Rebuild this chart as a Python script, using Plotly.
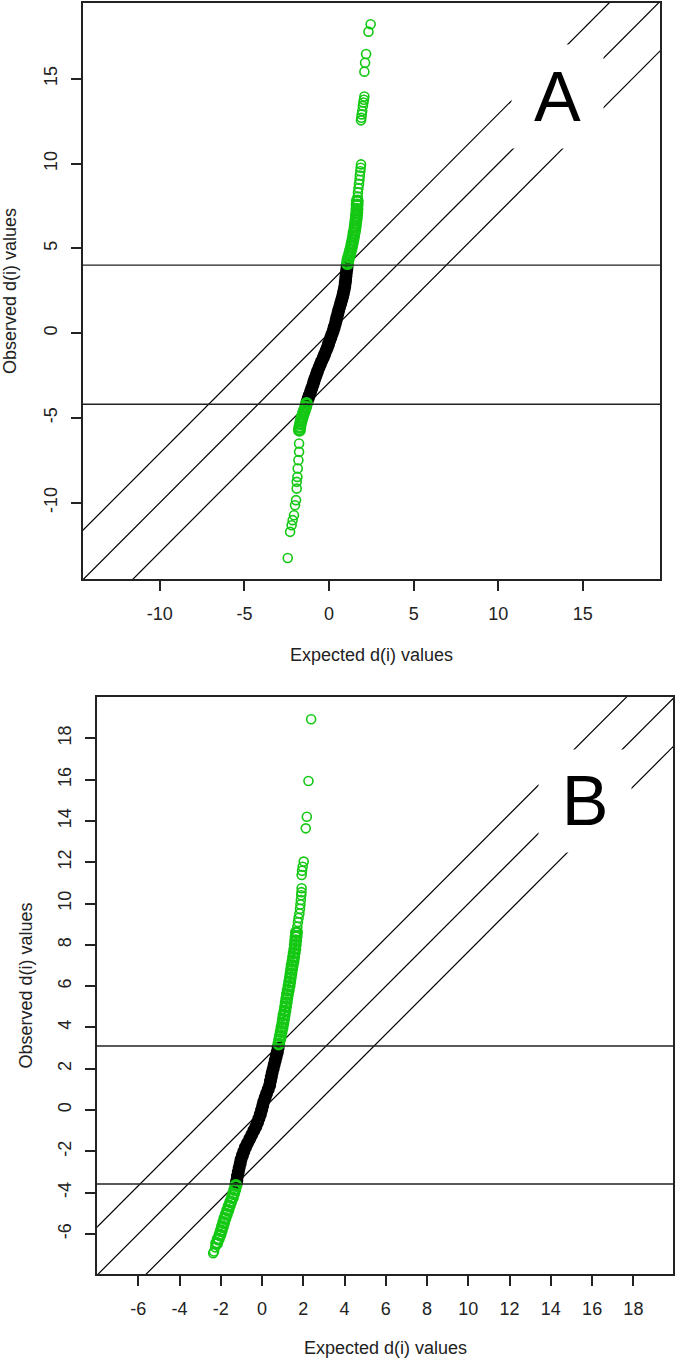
import plotly.graph_objects as go

# ---------------- Panel A data ----------------
a_black_x = [1.07, 1.05, 1.02, 1.00, 0.98, 0.96, 0.93, 0.89, 0.85, 0.80, 0.75, 0.69, 0.63, 0.57,
             0.52, 0.47, 0.42, 0.37, 0.31, 0.25, 0.18, 0.11, 0.04, -0.03, -0.10, -0.18, -0.26,
             -0.34, -0.43, -0.52, -0.60, -0.68, -0.75, -0.82, -0.89, -0.95, -1.02, -1.09, -1.16,
             -1.23, -1.30]
a_black_y = [3.95, 3.75, 3.55, 3.35, 3.15, 2.95, 2.75, 2.55, 2.35, 2.15, 1.95, 1.75, 1.55, 1.35,
             1.15, 0.95, 0.75, 0.55, 0.35, 0.15, -0.05, -0.25, -0.45, -0.65, -0.85, -1.05, -1.25,
             -1.45, -1.65, -1.85, -2.05, -2.25, -2.45, -2.65, -2.85, -3.05, -3.25, -3.45, -3.65,
             -3.85, -4.05]
# dense (overlapping) significant genes
a_green_dense_x = [1.09, 1.12, 1.17, 1.23, 1.28, 1.33, 1.37, 1.41, 1.45, 1.48, 1.52, 1.55, 1.57,
                   1.60, 1.62, 1.64, 1.65, 1.66, 1.67,
                   -1.33, -1.38, -1.45, -1.52, -1.58, -1.64, -1.69, -1.73, -1.75]
a_green_dense_y = [4.10, 4.30, 4.50, 4.70, 4.90, 5.10, 5.30, 5.50, 5.70, 5.90, 6.10, 6.30, 6.50,
                   6.70, 6.90, 7.10, 7.30, 7.55, 7.80,
                   -4.15, -4.35, -4.55, -4.75, -4.95, -5.15, -5.35, -5.55, -5.72]
# sparse significant genes
a_green_x = [1.69, 1.71, 1.74, 1.77, 1.80, 1.82, 1.85, 1.87, 1.89,
             1.89, 1.91, 1.93, 1.96, 2.00, 2.03, 2.06, 2.09, 2.09, 2.13, 2.19, 2.33, 2.46,
             -1.77, -1.77, -1.81, -1.85, -1.87, -1.91, -1.91, -1.95, -2.01, -2.07, -2.15, -2.21,
             -2.30, -2.44]
a_green_y = [8.05, 8.30, 8.55, 8.80, 9.05, 9.30, 9.55, 9.75, 9.95,
             12.55, 12.70, 12.90, 13.10, 13.40, 13.60, 13.76, 13.96, 15.42, 15.95, 16.46, 17.78, 18.22,
             -6.51, -7.00, -7.49, -7.98, -8.48, -8.77, -9.17, -9.85, -10.15, -10.74, -11.03, -11.33,
             -11.72, -13.26]
a_cutoffs = [4.01, -4.19]
a_delta = 2.92
a_xrange = [-14.54, 19.56]
a_yrange = [-14.50, 19.47]
a_ticks = [-10, -5, 0, 5, 10, 15]
a_ticktext = ["-10", "-5", "0", "5", "10", "15"]
a_label_pos = [13.48, 13.98]

# ---------------- Panel B data ----------------
b_black_x = [0.78, 0.74, 0.69, 0.64, 0.59, 0.54, 0.49, 0.45, 0.41, 0.37, 0.30, 0.22, 0.15, 0.08,
             0.03, -0.02, -0.08, -0.15, -0.22, -0.30, -0.40, -0.50, -0.60, -0.70, -0.80, -0.88,
             -0.95, -1.02, -1.06, -1.11, -1.15, -1.19, -1.22, -1.25]
b_black_y = [3.00, 2.80, 2.60, 2.40, 2.20, 2.00, 1.80, 1.60, 1.40, 1.20, 1.00, 0.80, 0.60, 0.40,
             0.20, 0.00, -0.20, -0.40, -0.60, -0.80, -1.00, -1.20, -1.40, -1.60, -1.80, -2.00,
             -2.20, -2.40, -2.60, -2.80, -3.00, -3.20, -3.40, -3.55]
b_green_dense_x = [0.81, 0.85, 0.89, 0.93, 0.97, 1.01, 1.04, 1.07, 1.11, 1.14, 1.17, 1.20, 1.23,
                   1.27, 1.31, 1.34, 1.37, 1.40, 1.43, 1.46, 1.50, 1.53, 1.56, 1.59, 1.61, 1.63,
                   1.65, 1.67,
                   -1.27, -1.32, -1.38, -1.44, -1.52, -1.59, -1.66, -1.73, -1.80, -1.86, -1.92,
                   -1.98, -2.04, -2.12, -2.20]
b_green_dense_y = [3.20, 3.40, 3.60, 3.80, 4.00, 4.20, 4.40, 4.60, 4.80, 5.00, 5.20, 5.40, 5.60,
                   5.80, 6.00, 6.20, 6.40, 6.60, 6.80, 7.00, 7.20, 7.40, 7.60, 7.80, 8.00, 8.20,
                   8.40, 8.60,
                   -3.65, -3.85, -4.05, -4.25, -4.45, -4.65, -4.85, -5.05, -5.25, -5.45, -5.65,
                   -5.85, -6.05, -6.25, -6.45]
b_green_x = [1.71, 1.74, 1.77, 1.81, 1.84, 1.86, 1.88, 1.90, 1.91, 1.92,
             1.92, 1.94, 1.97, 2.02, 2.12, 2.17, 2.25, 2.38,
             -2.27, -2.33, -2.37]
b_green_y = [8.88, 9.10, 9.30, 9.52, 9.75, 9.95, 10.17, 10.40, 10.55, 10.74,
             11.38, 11.59, 11.78, 12.03, 13.64, 14.20, 15.93, 18.92,
             -6.65, -6.85, -6.93]
b_cutoffs = [3.10, -3.58]
b_delta = 2.33
b_xrange = [-8.00, 19.92]
b_yrange = [-7.94, 20.00]
b_ticks = [-6, -4, -2, 0, 2, 4, 6, 8, 10, 12, 14, 16, 18]
b_ticktext = ["-6", "-4", "-2", "0", "2", "4", "6", "8", "10", "12", "14", "16", "18"]
b_label_pos = [15.66, 14.96]

x_title = "Expected d(i) values"
y_title = "Observed d(i) values"
labels = ["A", "B"]

GREEN = "#14c814"
FONT = "Liberation Sans, Arial, sans-serif"
W, H = 680, 1361

fig = go.Figure()

panels = [
    dict(bx=a_black_x, by=a_black_y, gdx=a_green_dense_x, gdy=a_green_dense_y,
         gx=a_green_x, gy=a_green_y, cut=a_cutoffs, d=a_delta,
         xr=a_xrange, yr=a_yrange, ticks=a_ticks, tt=a_ticktext, lab=a_label_pos,
         px=(83, 660), py=(3, 579), box=(91, 103), xt_y=655, yt_x=10),
    dict(bx=b_black_x, by=b_black_y, gdx=b_green_dense_x, gdy=b_green_dense_y,
         gx=b_green_x, gy=b_green_y, cut=b_cutoffs, d=b_delta,
         xr=b_xrange, yr=b_yrange, ticks=b_ticks, tt=b_ticktext, lab=b_label_pos,
         px=(97, 673), py=(697, 1274), box=(92, 102), xt_y=1348, yt_x=25),
]

annotations = []
shapes = []
for i, p in enumerate(panels):
    n = "" if i == 0 else str(i + 1)
    xa, ya = "x" + n, "y" + n
    lo = min(p["xr"][0], p["yr"][0]) - 5
    hi = max(p["xr"][1], p["yr"][1]) + 5
    for off in (p["d"], 0, -p["d"]):
        fig.add_trace(go.Scatter(x=[lo, hi], y=[lo + off, hi + off], mode="lines",
                                 line=dict(color="black", width=1.2), xaxis=xa, yaxis=ya,
                                 showlegend=False, hoverinfo="skip"))
    for c in p["cut"]:
        shapes.append(dict(type="line", xref=xa + " domain", yref=ya, x0=0, x1=1, y0=c, y1=c,
                           line=dict(color="#222", width=1.4), layer="above"))
    # non-significant genes: dense overlapping circles form a solid band
    fig.add_trace(go.Scatter(x=p["bx"], y=p["by"], mode="lines+markers", xaxis=xa, yaxis=ya,
                             line=dict(color="black", width=8),
                             marker=dict(symbol="circle-open", size=10, color="black",
                                         line=dict(width=3, color="black")),
                             showlegend=False))
    fig.add_trace(go.Scatter(x=p["gdx"], y=p["gdy"], mode="markers", xaxis=xa, yaxis=ya,
                             marker=dict(symbol="circle-open", size=10, color=GREEN,
                                         line=dict(width=3, color=GREEN)),
                             showlegend=False))
    fig.add_trace(go.Scatter(x=p["gx"], y=p["gy"], mode="markers", xaxis=xa, yaxis=ya,
                             marker=dict(symbol="circle-open", size=9, color=GREEN,
                                         line=dict(width=1.6, color=GREEN)),
                             showlegend=False))
    annotations.append(dict(x=p["lab"][0], y=p["lab"][1], xref=xa, yref=ya, text=labels[i],
                            showarrow=False, bgcolor="white", width=p["box"][0],
                            height=p["box"][1], borderpad=0,
                            font=dict(size=70, color="black", family=FONT)))
    cx = (p["px"][0] + p["px"][1]) / 2 / W
    cy = 1 - (p["py"][0] + p["py"][1]) / 2 / H
    annotations.append(dict(x=cx, y=1 - p["xt_y"] / H, xref="paper", yref="paper", text=x_title,
                            showarrow=False, xanchor="center", yanchor="middle",
                            font=dict(size=18, color="#222", family=FONT)))
    annotations.append(dict(x=p["yt_x"] / W, y=cy, xref="paper", yref="paper", text=y_title,
                            showarrow=False, textangle=-90, xanchor="center", yanchor="middle",
                            font=dict(size=18, color="#222", family=FONT)))
    axis_common = dict(showgrid=False, zeroline=False, showline=True, mirror=True,
                       linecolor="#222", linewidth=2, ticks="outside", ticklen=10, tickwidth=1.5,
                       tickcolor="#222", tickfont=dict(size=18, color="#222", family=FONT),
                       tickmode="array", tickvals=p["ticks"], ticktext=p["tt"],
                       ticklabelstandoff=7)
    fig.layout["xaxis" + n] = dict(domain=[p["px"][0] / W, p["px"][1] / W], range=p["xr"],
                                   anchor=ya, **axis_common)
    fig.layout["yaxis" + n] = dict(domain=[1 - p["py"][1] / H, 1 - p["py"][0] / H], range=p["yr"],
                                   anchor=xa, tickangle=-90, **axis_common)

fig.update_layout(width=W, height=H, margin=dict(l=0, r=0, t=0, b=0),
                  plot_bgcolor="white", paper_bgcolor="white",
                  annotations=annotations, shapes=shapes, showlegend=False)
fig.write_html("out.html", config={"displayModeBar": False},
               post_script="document.body.style.margin='0';")
